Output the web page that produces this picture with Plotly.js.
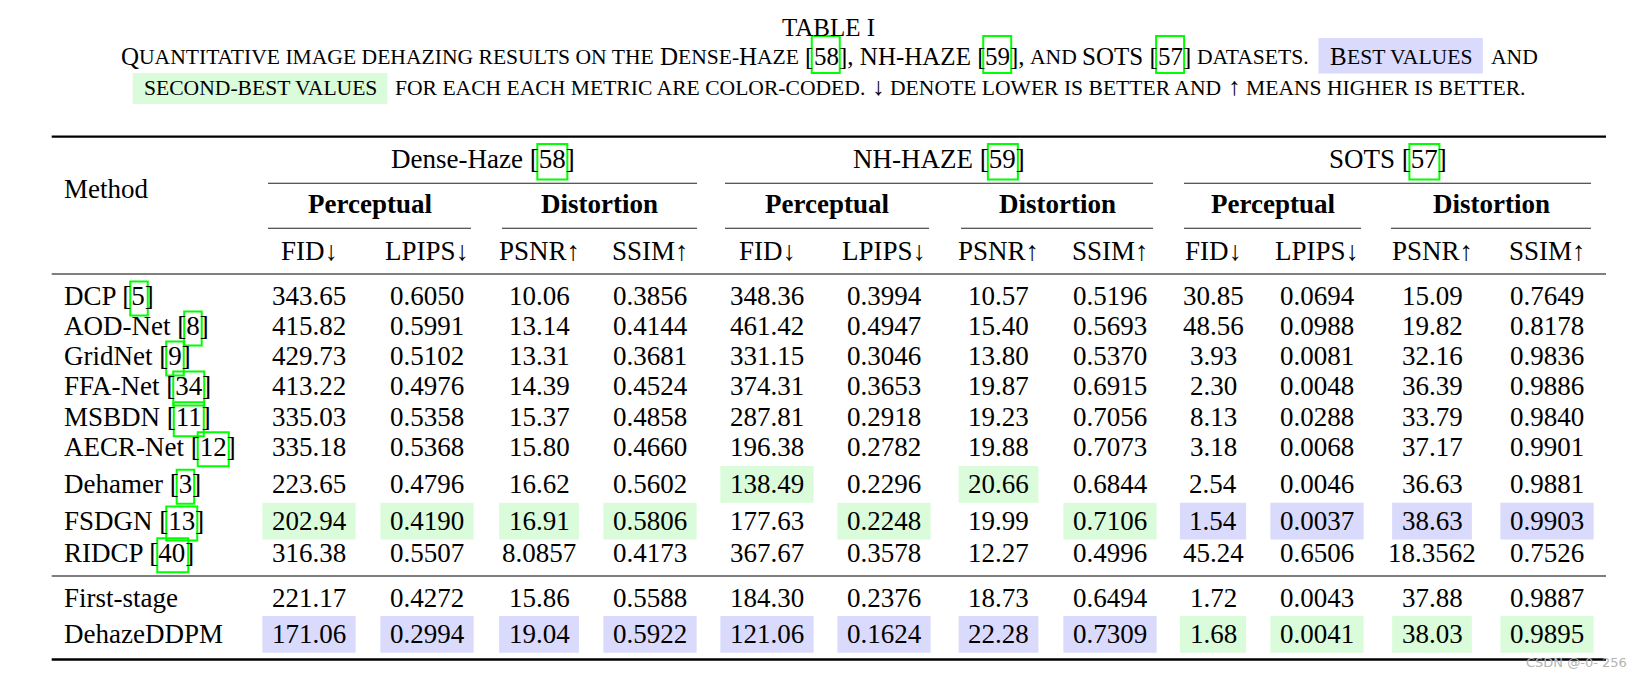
<!DOCTYPE html>
<html><head><meta charset="utf-8">
<script src="https://cdn.plot.ly/plotly-3.0.1.min.js"></script>
<style>html,body{margin:0;padding:0;background:#fff;overflow:hidden}</style>
</head><body><div id="chart" style="width:1643px;height:677px"></div>
<script>
// ---------------- DATA ----------------
const methods = ["DCP","AOD-Net","GridNet","FFA-Net","MSBDN","AECR-Net","Dehamer","FSDGN","RIDCP","First-stage","DehazeDDPM"];
const methodCites = ["5","8","9","34","11","12","3","13","40","",""];
const datasets = ["Dense-Haze","NH-HAZE","SOTS"];
const datasetCites = ["58","59","57"];
const groups = ["Perceptual","Distortion"];
const metrics = ["FID↓","LPIPS↓","PSNR↑","SSIM↑"];

const denseFID   = ["343.65","415.82","429.73","413.22","335.03","335.18","223.65","202.94","316.38","221.17","171.06"];
const denseLPIPS = ["0.6050","0.5991","0.5102","0.4976","0.5358","0.5368","0.4796","0.4190","0.5507","0.4272","0.2994"];
const densePSNR  = ["10.06","13.14","13.31","14.39","15.37","15.80","16.62","16.91","8.0857","15.86","19.04"];
const denseSSIM  = ["0.3856","0.4144","0.3681","0.4524","0.4858","0.4660","0.5602","0.5806","0.4173","0.5588","0.5922"];
const nhFID      = ["348.36","461.42","331.15","374.31","287.81","196.38","138.49","177.63","367.67","184.30","121.06"];
const nhLPIPS    = ["0.3994","0.4947","0.3046","0.3653","0.2918","0.2782","0.2296","0.2248","0.3578","0.2376","0.1624"];
const nhPSNR     = ["10.57","15.40","13.80","19.87","19.23","19.88","20.66","19.99","12.27","18.73","22.28"];
const nhSSIM     = ["0.5196","0.5693","0.5370","0.6915","0.7056","0.7073","0.6844","0.7106","0.4996","0.6494","0.7309"];
const sotsFID    = ["30.85","48.56","3.93","2.30","8.13","3.18","2.54","1.54","45.24","1.72","1.68"];
const sotsLPIPS  = ["0.0694","0.0988","0.0081","0.0048","0.0288","0.0068","0.0046","0.0037","0.6506","0.0043","0.0041"];
const sotsPSNR   = ["15.09","19.82","32.16","36.39","33.79","37.17","36.63","38.63","18.3562","37.88","38.03"];
const sotsSSIM   = ["0.7649","0.8178","0.9836","0.9886","0.9840","0.9901","0.9881","0.9903","0.7526","0.9887","0.9895"];

// row index of best (blue) and second-best (green) value in each metric column
const bestRow   = [10,10,10,10, 10,10,10,10, 7,7,7,7];
const secondRow = [7,7,7,7, 6,7,6,7, 10,10,10,10];

const tableTitle = "TABLE I";
const watermark = "CSDN @-0- 256";

// ---------------- LAYOUT ----------------
const W = 1643, H = 677;
const FONT = '"Liberation Serif", "Times New Roman", serif';
const BODY = 27, CAP = 25, SC = 21.6;
const ASC = 0.891, DESC = 0.216;
const GREEN = 'rgb(218,252,218)', BLUE = 'rgb(218,218,252)', CITE = 'rgb(0,255,0)';

const cols = [denseFID,denseLPIPS,densePSNR,denseSSIM,nhFID,nhLPIPS,nhPSNR,nhSSIM,sotsFID,sotsLPIPS,sotsPSNR,sotsSSIM];
const colX = [309,427,539,650, 767,884,998.5,1110, 1213,1317,1432,1547];
const groupSpan = [[[268,471],[502,697]],[[725,929],[961,1153]],[[1184,1361],[1391,1591]]];
const rowBase = [305,335,365,395,425.7,455.7,493.3,530,561.7,607.3,643.3];
const ruleL = 51.7, ruleR = 1606;

const ctx = document.createElement('canvas').getContext('2d');
function tw(t, s, bold){ ctx.font = (bold ? 'bold ' : '') + s + 'px "Liberation Serif"'; return ctx.measureText(t).width; }

const ann = [], shp = [];
function addText(t, x, base, s, anchor, extra){
  const o = {text:t, x:x, y: base - (ASC-DESC)/2*s, xref:'x', yref:'y',
    xanchor: anchor||'center', yanchor:'middle', showarrow:false, borderpad:0,
    font:{family:FONT, size:s, color:'#000'}};
  if (extra) Object.assign(o, extra);
  ann.push(o);
}
function rect(x0,x1,y0,y1,fill){ shp.push({type:'rect',xref:'x',yref:'y',x0,x1,y0,y1,fillcolor:fill,line:{width:0},layer:'below'}); }
function citeBox(x0,x1,y0,y1){ shp.push({type:'rect',xref:'x',yref:'y',x0,x1,y0,y1,fillcolor:'rgba(0,0,0,0)',line:{color:CITE,width:2},layer:'above'}); }
function hline(y,x0,x1,w,c){ shp.push({type:'line',xref:'x',yref:'y',x0,x1,y0:y,y1:y,line:{color:c||'#000',width:w}}); }

// ---- caption ----
const CX = 828.5;
addText(tableTitle, CX, 36, CAP);

function captionLine(segs, base){
  let total = 0;
  segs.forEach(g => { g.w = g.t !== undefined ? tw(g.t, g.s) : 0; total += (g.gap||0) + (g.padL||0) + g.w + (g.padR||0); });
  let x = CX - total/2, boxStart = null;
  segs.forEach(g => {
    x += (g.gap||0);
    if (g.boxStart){ boxStart = {x:x, c:g.boxStart, top:g.top, bot:g.bot}; }
    x += (g.padL||0);
    if (g.t !== undefined){
      const lead = g.t.length - g.t.replace(/^\s+/, '').length;
      const off = lead ? tw(' '.repeat(lead), g.s) : 0;
      const txt = g.t.trim();
      if (txt.length) addText(txt, x + off, base, g.s, 'left');
      if (g.cite) citeBox(x - 1, x + g.w + 2, base - 28.5, base + 8.5);
      x += g.w;
    }
    x += (g.padR||0);
    if (g.boxEnd){ rect(boxStart.x, x, base - boxStart.top, base + boxStart.bot, boxStart.c); boxStart = null; }
  });
}
captionLine([
  {t:'Q', s:CAP}, {t:'UANTITATIVE IMAGE DEHAZING RESULTS ON THE ', s:SC},
  {t:'D', s:CAP}, {t:'ENSE-', s:SC}, {t:'H', s:CAP}, {t:'AZE', s:SC},
  {t:' [', s:CAP}, {t:'58', s:CAP, cite:true}, {t:'], NH-HAZE [', s:CAP}, {t:'59', s:CAP, cite:true},
  {t:'],', s:CAP}, {t:' AND ', s:SC}, {t:'SOTS [', s:CAP}, {t:'57', s:CAP, cite:true}, {t:']', s:CAP},
  {t:' DATASETS.', s:SC},
  {t:'B', s:CAP, gap:11, padL:10.5, boxStart:BLUE, top:26.5, bot:9}, {t:'EST VALUES', s:SC, padR:11, boxEnd:true},
  {t:'AND', s:SC, gap:7}
], 64.5);
captionLine([
  {t:'SECOND-BEST VALUES', s:SC, padL:10, padR:10.5, boxStart:GREEN, top:22, bot:9, boxEnd:true},
  {t:'FOR EACH EACH METRIC ARE COLOR-CODED. ', s:SC, gap:7}, {t:'↓', s:CAP},
  {t:' DENOTE LOWER IS BETTER AND ', s:SC}, {t:'↑', s:CAP}, {t:' MEANS HIGHER IS BETTER.', s:SC}
], 95);

// ---- rules ----
hline(136.7, ruleL, ruleR, 2.2);
hline(274, ruleL, ruleR, 1.2);
hline(576, ruleL, ruleR, 1.2);
hline(659.5, ruleL, ruleR, 2.4);

// ---- header ----
addText('Method', 63, 198, BODY, 'left');
datasets.forEach((d, i) => {
  const span = [groupSpan[i][0][0], groupSpan[i][1][1]];
  const cx = (span[0] + span[1]) / 2;
  const full = d + ' [' + datasetCites[i] + ']';
  addText(full, cx, 168, BODY);
  const x0 = cx - tw(full, BODY)/2 + tw(d + ' [', BODY);
  citeBox(x0 - 1, x0 + tw(datasetCites[i], BODY) + 2, 168 - 24, 168 + 11.5);
  hline(183.3, span[0], span[1], 1.1, '#222');
  groups.forEach((g, j) => {
    const gs = groupSpan[i][j];
    addText('<b>' + g + '</b>', (gs[0] + gs[1]) / 2, 213.3, BODY);
    hline(228.3, gs[0], gs[1], 1.1, '#222');
  });
});
cols.forEach((c, k) => addText(metrics[k % 4], colX[k], 260, BODY));

// ---- body ----
methods.forEach((m, r) => {
  const base = rowBase[r];
  const full = methodCites[r] ? m + ' [' + methodCites[r] + ']' : m;
  addText(full, 63, base, BODY, 'left');
  if (methodCites[r]){
    const x0 = 63 + tw(m + ' [', BODY);
    citeBox(x0 - 1, x0 + tw(methodCites[r], BODY) + 3, base - 23.5, base + 10.5);
  }
});
cols.forEach((c, k) => {
  c.forEach((v, r) => {
    const base = rowBase[r];
    addText(v, colX[k], base, BODY);
    if (r === bestRow[k] || r === secondRow[k]){
      const half = tw(v, BODY)/2 + 9.5;
      rect(colX[k] - half, colX[k] + half, base - 27.3, base + 9.5, r === bestRow[k] ? BLUE : GREEN);
    }
  });
});

// ---- watermark ----
ann.push({text:watermark, x:1628, y:662, xref:'x', yref:'y', xanchor:'right', yanchor:'middle', showarrow:false, borderpad:0,
  font:{family:'"DejaVu Sans", sans-serif', size:13, color:'#b4b4b4'}});

Plotly.newPlot('chart', [{type:'scatter', x:[], y:[], mode:'markers', hoverinfo:'skip', showlegend:false}], {
  width:W, height:H, margin:{l:0,r:0,t:0,b:0}, paper_bgcolor:'#fff', plot_bgcolor:'#fff',
  xaxis:{range:[0,W], visible:false, fixedrange:true},
  yaxis:{range:[H,0], visible:false, fixedrange:true},
  showlegend:false, annotations:ann, shapes:shp
}, {staticPlot:true, displayModeBar:false});
</script></body></html>
